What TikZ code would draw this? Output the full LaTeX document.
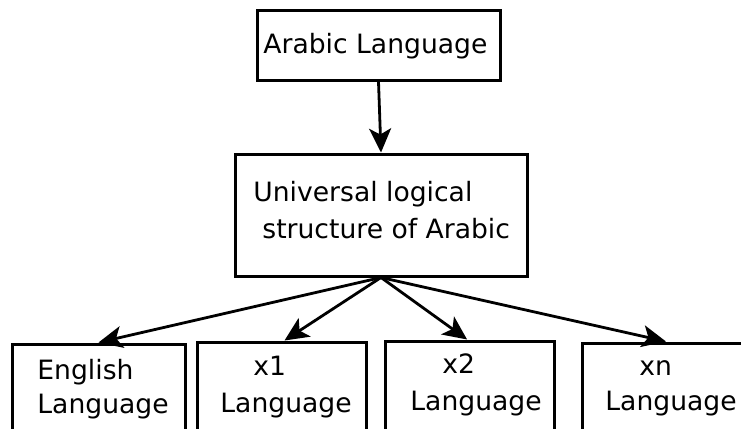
\documentclass[tikz,border=0pt]{standalone}
\usepackage{fontspec}
\setmainfont{DejaVu Sans}
\usetikzlibrary{arrows.meta}
\begin{document}
\begin{tikzpicture}[x=0.5pt,y=-0.5pt,
  box/.style={draw=black,line width=1.5pt,rectangle,inner sep=0pt,fill=white},
  txt/.style={anchor=base west,inner sep=0pt,font=\fontsize{13.3pt}{16pt}\selectfont},
  arr/.style={draw=black,line width=1.4pt,-{Stealth[length=12pt,width=11pt,inset=3pt]}}]
\useasboundingbox (0,0) rectangle (741,429);
\clip (0,0) rectangle (741,429);
\fill[white] (0,0) rectangle (741,429);
% boxes
\node[box,minimum width=121.5pt,minimum height=35pt] (top) at (378.5,45) {};
\node[box,minimum width=146pt,minimum height=61pt] (mid) at (381,215) {};
\node[box,minimum width=86.5pt,minimum height=50pt] (eng) at (98.5,394) {};
\node[box,minimum width=84.5pt,minimum height=50pt] (xa) at (281.5,392) {};
\node[box,minimum width=84.5pt,minimum height=50pt] (xb) at (469.5,391) {};
\node[box,minimum width=84pt,minimum height=50pt] (xn) at (666,393) {};
% texts
\node[txt] (t1) at (263,53) {Arabic Language};
\node[txt] (t2) at (253,201) {Universal logical};
\node[txt] (t3) at (262,238) {structure of Arabic};
\node[txt] (t4) at (37,379) {English};
\node[txt] (t5) at (37,413) {Language};
\node[txt] (t6) at (253,375) {x1};
\node[txt] (t7) at (220,412) {Language};
\node[txt] (t8) at (442,373) {x2};
\node[txt] (t9) at (410,410) {Language};
\node[txt] (t10) at (639,375) {xn};
\node[txt] (t11) at (605,410) {Language};
% connectors
\draw[arr] (top.south) -- (mid.north);
\draw[arr] (mid.south) -- (eng.north);
\draw[arr] (mid.south) -- ([xshift=1.5pt]xa.north);
\draw[arr] (mid.south) -- ([xshift=-1.2pt]xb.north);
\draw[arr] (mid.south) -- (xn.north);
\end{tikzpicture}
\end{document}
